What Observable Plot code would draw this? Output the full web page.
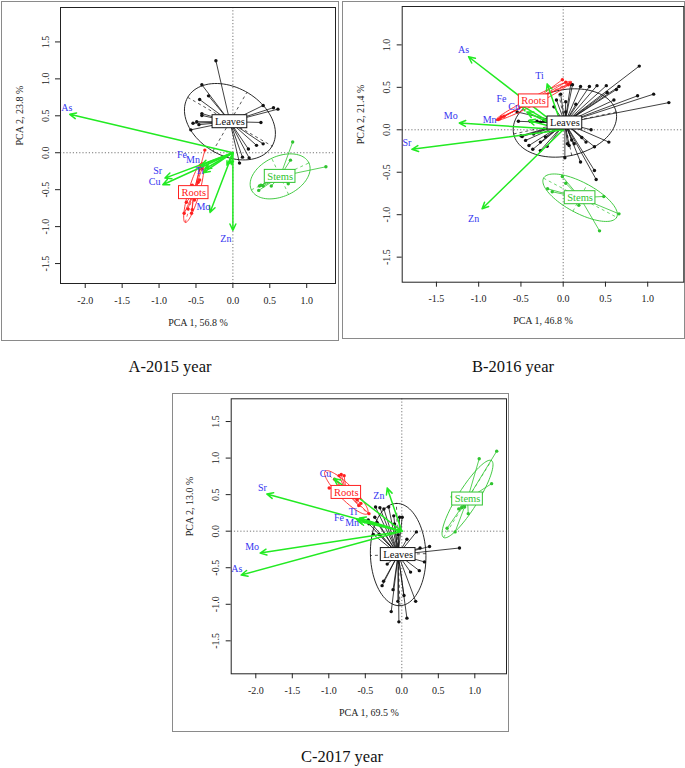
<!DOCTYPE html>
<html><head><meta charset="utf-8">
<script src="https://cdn.jsdelivr.net/npm/d3@7"></script>
<script src="https://cdn.jsdelivr.net/npm/@observablehq/plot@0.6"></script>
<style>
body{margin:0;background:#fff;}
#page{position:relative;width:685px;height:768px;font-family:"Liberation Serif","Times New Roman",serif;overflow:hidden}
.panel{position:absolute;}
.border{position:absolute;border:1.5px solid #8a8a8a;box-sizing:border-box;}
.cap{position:absolute;font-size:16.5px;color:#111;transform:translate(-50%,-50%);white-space:nowrap}
</style></head><body><div id="page"></div>
<script>
// ---------- shared ----------
const groups = ["Leaves", "Stems", "Roots"];
const groupColors = ["#111111", "#2fc42f", "#ff2020"];
const arrowColor = "#22ea22";
const varColor = "#3535f0";
const captions = ["A-2015 year", "B-2016 year", "C-2017 year"];

// ---------- Panel A (2015) ----------
const axisTitlesA = ["PCA 1, 56.8 %", "PCA 2, 23.8 %"];
const xTicksA = [-2, -1.5, -1, -0.5, 0, 0.5, 1];
const yTicksA = [-1.5, -1, -0.5, 0, 0.5, 1, 1.5];
const leavesA = [[-0.23,1.245],[-0.42,0.92],[-0.33,0.77],[-0.45,0.72],[-0.42,0.53],[-0.42,0.505],[-0.49,0.42],[-0.54,0.40],[-0.46,0.38],[-0.57,0.31],[0.41,0.64],[0.55,0.61],[0.61,0.59],[0.38,0.41],[0.41,0.12],[0.32,0.10],[0.22,-0.07],[0.21,0.05],[0.13,-0.06],[0.09,-0.14]];
const stemsA = [[0.81,0.145],[0.78,-0.10],[1.26,-0.19],[0.75,-0.42],[0.52,-0.45],[0.41,-0.45],[0.36,-0.45],[0.35,-0.51],[0.38,-0.44]];
const rootsA = [[-0.38,0.036],[-0.44,-0.17],[-0.42,-0.22],[-0.45,-0.37],[-0.47,-0.40],[-0.55,-0.44],[-0.52,-0.64],[-0.55,-0.77],[-0.63,-0.67],[-0.66,-0.82],[-0.56,-0.82],[-0.61,-0.76]];
const centroidsA = [[-0.04,0.42],[0.64,-0.32],[-0.53,-0.54]];
const ellipsesA = [[0.66,0.46,-30],[0.43,0.27,25],[0.42,0.075,74]]; // semi-axis a, b, angle (deg)
const varsA = ["As","Sr","Cu","Fe","Mn","Ti","Mo","Zn","",""];
const loadXA = [-2.21,-0.92,-0.95,-0.43,-0.38,-0.40,-0.31,0.0,-0.08,-0.02];
const loadYA = [0.52,-0.343,-0.433,-0.17,-0.22,-0.27,-0.81,-1.05,-0.17,-0.16];
const labXA = [-2.25,-1.02,-1.06,-0.69,-0.54,-0.45,-0.40,-0.095,0,0];
const labYA = [0.61,-0.25,-0.40,-0.03,-0.09,-0.245,-0.73,-1.17,0,0];

// ---------- Panel B (2016) ----------
const axisTitlesB = ["PCA 1, 46.8 %", "PCA 2, 21.4 %"];
const xTicksB = [-1.5, -1, -0.5, 0, 0.5, 1];
const yTicksB = [-1.5, -1, -0.5, 0, 0.5, 1];
const leavesB = [[0.90,0.75],[1.07,0.42],[0.88,0.40],[1.25,0.32],[0.51,0.52],[0.63,0.475],[0.66,0.51],[0.40,0.52],[0.31,0.51],[0.205,0.51],[0.11,0.53],[0.09,0.54],[0.60,0.35],[0.52,0.44],[0.33,0.0],[0.54,-0.145],[0.37,-0.20],[0.27,-0.145],[0.205,-0.38],[0.37,-0.48],[0.39,-0.585],[0.22,-0.09],[0.13,-0.165],[0.05,-0.165],[0.07,-0.185],[0.02,-0.33],[-0.545,0.21],[-0.53,0.10],[-0.39,0.10],[-0.31,0.10],[-0.27,0.09],[-0.23,0.11],[-0.485,-0.08],[-0.445,-0.125],[-0.405,-0.185],[-0.36,-0.23],[-0.27,-0.245],[-0.19,-0.195],[-0.27,-0.145],[-0.21,-0.085],[-0.11,0.27],[-0.08,0.35],[0.03,0.33],[0.03,0.21],[-0.03,0.42],[-0.50,-0.07],[-0.35,-0.05],[-0.15,0.05],[0.10,-0.12],[0.15,0.30]];
const stemsB = [[-0.01,-0.55],[0.03,-0.63],[-0.185,-0.695],[-0.13,-0.73],[0.48,-0.785],[0.185,-0.89],[0.66,-0.99],[0.43,-1.19]];
const rootsB = [[-0.77,0.12],[-0.75,0.13],[-0.73,0.15],[-0.70,0.16],[-0.01,0.59],[0.08,0.55],[0.06,0.53],[0.03,0.56]];
const centroidsB = [[0.02,0.08],[0.20,-0.80],[-0.35,0.34]];
const ellipsesB = [[0.62,0.39,12],[0.49,0.18,-28],[0.50,0.045,27]];
const varsB = ["As","Ti","Fe","Cu","Mn","Mo","Sr","Zn"];
const loadXB = [-1.12,-0.19,-0.50,-0.43,-0.41,-1.23,-1.79,-0.96];
const loadYB = [0.86,0.54,0.29,0.21,0.11,0.08,-0.23,-0.93];
const labXB = [-1.18,-0.28,-0.73,-0.58,-0.87,-1.33,-1.85,-1.06];
const labYB = [0.94,0.64,0.37,0.27,0.12,0.17,-0.15,-1.05];

// ---------- Panel C (2017) ----------
const axisTitlesC = ["PCA 1, 69.5 %", "PCA 2, 13.0 %"];
const xTicksC = [-2, -1.5, -1, -0.5, 0, 0.5, 1];
const yTicksC = [-1.5, -1, -0.5, 0, 0.5, 1, 1.5];
const leavesC = [[-0.30,0.32],[-0.36,0.33],[-0.246,0.305],[-0.18,0.33],[-0.11,0.21],[-0.03,0.19],[0.005,0.19],[-0.45,0.10],[-0.46,0.155],[-0.39,-0.045],[-0.31,-0.045],[0.20,-0.01],[0.07,-0.11],[0.38,-0.21],[0.79,-0.23],[0.25,-0.23],[0.31,-0.42],[0.24,-0.54],[0.12,-0.56],[-0.20,-0.45],[-0.25,-0.685],[-0.27,-0.745],[-0.12,-0.80],[-0.054,-0.96],[0.19,-0.96],[-0.145,-1.10],[-0.04,-1.24],[0.07,-1.19],[0.03,-0.88],[-0.37,0.19],[-0.34,0.12],[-0.10,0.10],[-0.05,-0.05]];
const stemsC = [[1.30,1.095],[1.06,0.99],[1.23,0.65],[0.69,0.47],[0.78,0.305],[0.82,0.32],[0.86,0.33],[0.91,0.24],[0.62,0.04],[0.73,-0.01]];
const rootsC = [[-0.995,0.59],[-0.92,0.71],[-0.86,0.76],[-0.83,0.775],[-0.79,0.76],[-0.61,0.43],[-0.56,0.38],[-0.59,0.35],[-0.45,0.24]];
const centroidsC = [[-0.05,-0.32],[0.90,0.44],[-0.76,0.53]];
const ellipsesC = [[0.70,0.38,92],[0.62,0.14,58],[0.41,0.10,-45]];
const varsC = ["Cu","Sr","Zn","Ti","Fe","Mn","Mo","As"];
const loadXC = [-0.93,-1.85,-0.20,-0.58,-0.62,-0.60,-1.94,-2.20];
const loadYC = [0.72,0.51,0.59,0.18,0.16,0.14,-0.30,-0.60];
const labXC = [-1.045,-1.91,-0.315,-0.67,-0.86,-0.68,-2.05,-2.26];
const labYC = [0.78,0.59,0.49,0.26,0.18,0.12,-0.22,-0.51];

// ---------- drawing ----------
const ctx = document.createElement("canvas").getContext("2d");
ctx.font = "10.5px 'Liberation Serif'";

function makePanel(p) {
  const W = p.width, H = p.height, m = p.margins;
  const ppuX = (W - m.left - m.right) / (p.xDomain[1] - p.xDomain[0]);
  const ppuY = (H - m.top - m.bottom) / (p.yDomain[1] - p.yDomain[0]);
  const marks = [];
  marks.push(Plot.ruleX([0], {stroke: "#666", strokeDasharray: "1.2,2", strokeWidth: 0.9}));
  marks.push(Plot.ruleY([0], {stroke: "#666", strokeDasharray: "1.2,2", strokeWidth: 0.9}));
  const boxes = [];
  groups.forEach((g, i) => {
    const [cx, cy] = p.centroids[i];
    const [a, b, th] = p.ellipses[i];
    const col = groupColors[i];
    const t = th * Math.PI / 180;
    const ell = d3.range(0, 361, 4).map(deg => {
      const u = deg * Math.PI / 180;
      return [cx + a * Math.cos(u) * Math.cos(t) - b * Math.sin(u) * Math.sin(t),
              cy + a * Math.cos(u) * Math.sin(t) + b * Math.sin(u) * Math.cos(t)];
    });
    marks.push(Plot.line(ell, {x: d => d[0], y: d => d[1], stroke: col, strokeWidth: 0.9}));
    const axes = [[cx - a*Math.cos(t), cy - a*Math.sin(t), cx + a*Math.cos(t), cy + a*Math.sin(t)],
                  [cx + b*Math.sin(t), cy - b*Math.cos(t), cx - b*Math.sin(t), cy + b*Math.cos(t)]];
    marks.push(Plot.link(axes, {x1: d => d[0], y1: d => d[1], x2: d => d[2], y2: d => d[3], stroke: col, strokeDasharray: "3,3", strokeWidth: 0.7}));
    marks.push(Plot.link(p.points[i], {x1: () => cx, y1: () => cy, x2: d => d[0], y2: d => d[1], stroke: col, strokeWidth: 0.8}));
    marks.push(Plot.dot(p.points[i], {x: d => d[0], y: d => d[1], r: 1.7, fill: col, stroke: "none"}));
    const w = ctx.measureText(g).width;
    boxes.push({g, col, cx, cy, hw: (w / 2 + 2.5) / ppuX, hh: 6.5 / ppuY});
  });
  const vars = p.vars.map((v, i) => ({v, x: p.loadX[i], y: p.loadY[i], lx: p.labX[i], ly: p.labY[i]}));
  marks.push(Plot.arrow(vars, {x1: () => 0, y1: () => 0, x2: "x", y2: "y", stroke: arrowColor, strokeWidth: 1.5, headLength: 7, headAngle: 50}));
  boxes.forEach(bx => {
    marks.push(Plot.rect([bx], {x1: d => d.cx - d.hw, x2: d => d.cx + d.hw, y1: d => d.cy - d.hh, y2: d => d.cy + d.hh, fill: "white", stroke: bx.col, strokeWidth: 1}));
    marks.push(Plot.text([bx], {x: "cx", y: "cy", text: "g", fill: bx.col, fontSize: 10.5}));
  });
  marks.push(Plot.text(vars.filter(d => d.v), {x: "lx", y: "ly", text: "v", fill: varColor, fontSize: 10}));
  marks.push(Plot.frame({stroke: "#222", strokeWidth: 1}));
  marks.push(Plot.text([p.titles[0]], {text: d => d, frameAnchor: "bottom", dy: 42, fontSize: 10, fill: "#222"}));
  marks.push(Plot.text([p.titles[1]], {text: d => d, frameAnchor: "left", rotate: -90, dx: -41, fontSize: 10, fill: "#222"}));
  return Plot.plot({
    width: W, height: H,
    marginLeft: m.left, marginRight: m.right, marginTop: m.top, marginBottom: m.bottom,
    style: {fontFamily: "'Liberation Serif', 'Times New Roman', serif", fontSize: "10px", background: "transparent", color: "#222", overflow: "visible"},
    x: {domain: p.xDomain, ticks: p.xTicks, tickFormat: d => d.toFixed(1), tickSize: 5, tickPadding: 8, label: null},
    y: {domain: p.yDomain, ticks: p.yTicks, tickFormat: d => d.toFixed(1), tickSize: 5, tickPadding: 7, tickRotate: -90, label: null},
    marks
  });
}

const panels = [
  {left: 0, top: 0, width: 339, height: 341, margins: {left: 60, right: 4, top: 7, bottom: 58},
   xDomain: [-2.335, 1.39], yDomain: [-1.77, 1.966], xTicks: xTicksA, yTicks: yTicksA, titles: axisTitlesA,
   points: [leavesA, stemsA, rootsA], centroids: centroidsA, ellipses: ellipsesA,
   vars: varsA, loadX: loadXA, loadY: loadYA, labX: labXA, labY: labYA,
   border: {left: 1, top: 1, width: 338, height: 340}, cap: [170, 367]},
  {left: 341, top: 0, width: 344, height: 340, margins: {left: 60.7, right: 1.7, top: 6, bottom: 58.3},
   xDomain: [-1.905, 1.427], yDomain: [-1.795, 1.452], xTicks: xTicksB, yTicks: yTicksB, titles: axisTitlesB,
   points: [leavesB, stemsB, rootsB], centroids: centroidsB, ellipses: ellipsesB,
   vars: varsB, loadX: loadXB, loadY: loadYB, labX: labXB, labY: labYB,
   border: {left: 342, top: 1, width: 343, height: 338}, cap: [513, 367]},
  {left: 171, top: 393, width: 338, height: 340, margins: {left: 59.7, right: 3, top: 5.3, bottom: 59.7},
   xDomain: [-2.337, 1.434], yDomain: [-1.951, 1.811], xTicks: xTicksC, yTicks: yTicksC, titles: axisTitlesC,
   points: [leavesC, stemsC, rootsC], centroids: centroidsC, ellipses: ellipsesC,
   vars: varsC, loadX: loadXC, loadY: loadYC, labX: labXC, labY: labYC,
   border: {left: 172, top: 393, width: 337, height: 339}, cap: [342, 757]}
];

const page = document.getElementById("page");
panels.forEach((p, i) => {
  const b = document.createElement("div");
  b.className = "border";
  Object.assign(b.style, {left: p.border.left + "px", top: p.border.top + "px", width: p.border.width + "px", height: p.border.height + "px"});
  page.appendChild(b);
  const holder = document.createElement("div");
  holder.className = "panel";
  Object.assign(holder.style, {left: p.left + "px", top: p.top + "px"});
  holder.appendChild(makePanel(p));
  page.appendChild(holder);
  const c = document.createElement("div");
  c.className = "cap";
  c.textContent = captions[i];
  Object.assign(c.style, {left: p.cap[0] + "px", top: p.cap[1] + "px"});
  page.appendChild(c);
});
</script>
</body></html>
